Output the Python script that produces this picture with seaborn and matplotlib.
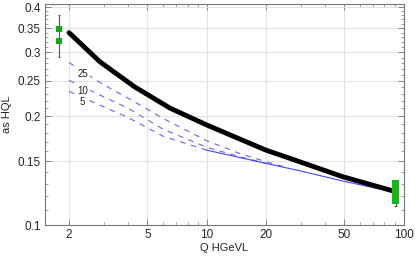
import matplotlib
matplotlib.use("Agg")
import matplotlib.pyplot as plt
import matplotlib.ticker as mticker
import numpy as np
import seaborn as sns

# thick black curve
q_black = [2, 2.87, 4.3, 6.5, 10, 20, 26.3, 49, 91.2]
a_black = [0.340, 0.2825, 0.241, 0.2105, 0.189, 0.161, 0.153, 0.136, 0.1236]

# dashed blue curves, labelled 25 / 10 / 5
q_25 = [2, 3, 4, 6, 10, 15, 20, 26]
a_25 = [0.281, 0.244, 0.224, 0.197, 0.171, 0.157, 0.1496, 0.1437]
q_10 = [2, 3, 4, 6, 10, 15, 20]
a_10 = [0.251, 0.226, 0.210, 0.184, 0.164, 0.154, 0.148]
q_5 = [2, 3, 4, 6, 10]
a_5 = [0.234, 0.212, 0.198, 0.176, 0.161]

# solid blue curve
q_solid = [10, 20, 30, 50, 91.2]
a_solid = [0.161, 0.148, 0.141, 0.132, 0.123]

# data points
q_tau = [1.777, 1.777]
a_tau = [0.348, 0.322]
tau_err = (0.291, 0.38)
q_z = [91.2] * 7
a_z = [0.1165, 0.119, 0.121, 0.123, 0.125, 0.127, 0.1305]
z_err = (0.1127, 0.1335)

curve_labels = ["25", "10", "5"]
label_pos = [(2.36, 0.262), (2.36, 0.235), (2.34, 0.219)]

sns.set_style("ticks")
plt.rcParams['font.family'] = ['Liberation Sans', 'DejaVu Sans']

fig = plt.figure(figsize=(4.15, 2.57), dpi=100)
ax = fig.add_axes([45 / 415, 32 / 257, 359 / 415, 221 / 257])
ax.set_xscale('log')
ax.set_yscale('log')

blue = '#6464ff'
for q, a in [(q_25, a_25), (q_10, a_10), (q_5, a_5)]:
    sns.lineplot(x=q, y=a, ax=ax, color=blue, lw=0.8,
                 linestyle=(0, (5, 5)), estimator=None)
sns.lineplot(x=q_solid, y=a_solid, ax=ax, color='#4444ff', lw=0.8, estimator=None)
sns.lineplot(x=q_black, y=a_black, ax=ax, color='black', lw=3.5, estimator=None)

ax.vlines(q_tau[0], *tau_err, color='#555555', lw=0.8)
ax.hlines(list(tau_err), q_tau[0] * 0.985, q_tau[0] * 1.015, color='#555555', lw=0.8)
ax.vlines(q_z[0], *z_err, color='#555555', lw=0.8)
ax.hlines(list(z_err), q_z[0] * 0.985, q_z[0] * 1.015, color='#555555', lw=0.8)
sns.scatterplot(x=q_tau, y=a_tau, ax=ax, marker='s', s=22, color='#11aa11',
                edgecolor='none', zorder=5)
sns.scatterplot(x=q_z, y=a_z, ax=ax, marker='s', s=22, color='#11bb11',
                edgecolor='none', zorder=5)

for lab, (x, y) in zip(curve_labels, label_pos):
    ax.text(x, y, lab, fontsize=7, ha='center', va='center', color='#222222',
            bbox=dict(facecolor='white', edgecolor='none', pad=1.2))

ax.set_xlim(1.51, 100.5)
ax.set_ylim(0.1, 0.408)
ax.set_xticks([2, 5, 10, 20, 50, 100])
ax.xaxis.set_major_formatter(mticker.FuncFormatter(lambda v, p: f"{v:g}"))
ax.xaxis.set_minor_locator(mticker.FixedLocator([3, 4, 6, 7, 8, 9, 30, 40, 60, 70, 80, 90]))
ax.xaxis.set_minor_formatter(mticker.NullFormatter())
ax.set_yticks([0.1, 0.15, 0.2, 0.25, 0.3, 0.35, 0.4])
ax.yaxis.set_major_formatter(mticker.FuncFormatter(lambda v, p: f"{v:g}"))
ax.yaxis.set_minor_locator(mticker.FixedLocator(np.arange(0.11, 0.40, 0.01)))
ax.yaxis.set_minor_formatter(mticker.NullFormatter())

ax.grid(True, which='major', color='#e2e2e2', lw=0.8)
ax.set_axisbelow(True)
for s in ax.spines.values():
    s.set_color('#777777')
    s.set_linewidth(0.8)
ax.tick_params(which='both', direction='in', top=True, right=True, color='#777777',
               labelsize=8.5, pad=3)
ax.tick_params(which='major', length=4, width=0.6)
ax.tick_params(which='minor', length=2, width=0.5)

ax.set_xlabel("Q HGeVL", fontsize=8, labelpad=1)
ax.set_ylabel("as HQL", fontsize=8, labelpad=4)

fig.savefig("out.png", dpi=100)
